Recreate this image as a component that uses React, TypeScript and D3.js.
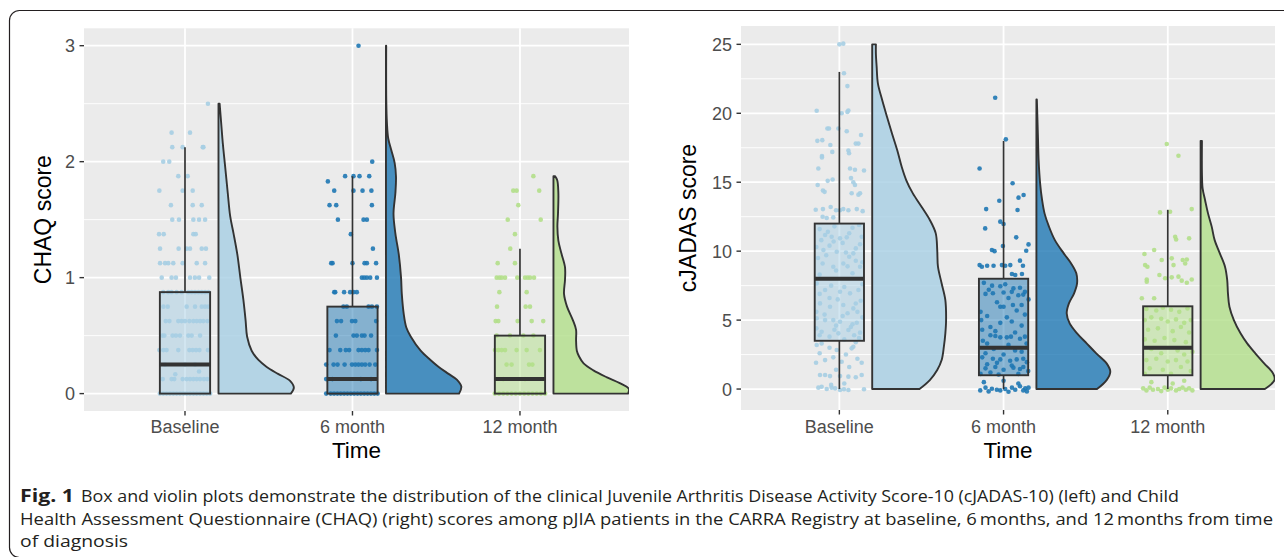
import * as React from "react";
import * as d3 from "d3";

const categories = ["Baseline", "6 month", "12 month"];
const groupColors = ["#a6cee3", "#1f78b4", "#b2df8a"];

// CHAQ points: [score, horizontal jitter offsets]
const chaqBaselineRows: [number, number[]][] = [
  [2.5, [0.137]],
  [2.25, [-0.08, 0.03]],
  [2.125, [-0.076, -0.014, 0.106, 0.11]],
  [2.0, [-0.13, -0.094]],
  [1.875, [-0.04, 0.016]],
  [1.75, [-0.153, -0.014, 0.046]],
  [1.625, [-0.084, 0.046, 0.1]],
  [1.5, [-0.076, -0.036, 0.05, 0.084, 0.12]],
  [1.375, [-0.155, -0.127, 0.05, 0.064]],
  [1.25, [-0.149, -0.038, 0.01, 0.03, 0.1, 0.125]],
  [1.125, [-0.149, -0.119, -0.1, -0.07, -0.014, 0.07, 0.12]],
  [1.0, [-0.139, -0.08, -0.054, 0.03, 0.059, 0.084, 0.145]],
  [0.875, [-0.13, -0.1, -0.08, -0.05, -0.02, 0.02, 0.04, 0.06, 0.08, 0.1, 0.12, 0.14]],
  [0.75, [-0.129, -0.103, 0.01, 0.06, 0.1, 0.12, 0.139]],
  [0.625, [-0.115, -0.093, -0.04, -0.02, 0, 0.026, 0.05, 0.07, 0.09, 0.109, 0.133]],
  [0.5, [-0.135, -0.123, -0.074, -0.054, -0.03, 0.02, 0.04, 0.09]],
  [0.375, [-0.153, -0.129, -0.11, -0.04, 0.026, 0.046, 0.066, 0.086, 0.137]],
  [0.25, [-0.12, 0.0, 0.06]],
  [0.19, [0.084]],
  [0.167, [-0.058]],
  [0.125, [-0.133, -0.08, -0.064, -0.014, 0.01, 0.03, 0.05, 0.07, 0.09, 0.113, 0.133]],
  [0, [-0.15, -0.13, -0.11, -0.09, -0.07, -0.05, -0.03, -0.01, 0.01, 0.03, 0.05, 0.07, 0.09, 0.11, 0.13, 0.15]],
];

const chaq6Rows: [number, number[]][] = [
  [3.0, [0.036]],
  [2.0, [0.118]],
  [1.875, [-0.044, 0.006, 0.042, 0.1]],
  [1.83, [-0.147]],
  [1.75, [-0.109, 0.006, 0.06, 0.113]],
  [1.625, [-0.137, -0.097, 0.116]],
  [1.5, [-0.087, 0.066, 0.086]],
  [1.375, [-0.01]],
  [1.25, [0.122]],
  [1.125, [-0.127, -0.119, 0, 0.072, 0.086, 0.141]],
  [1.0, [0.056, 0.07, 0.086, 0.106, 0.146]],
  [0.875, [-0.109, -0.103, -0.05, -0.014, 0.006, 0.026]],
  [0.75, [-0.054, -0.034, 0.096, 0.116, 0.146]],
  [0.625, [-0.093, -0.068, -0.003, 0.017, 0.141]],
  [0.5, [-0.099, 0.006, 0.026, 0.056, 0.072, 0.111]],
  [0.375, [-0.137, -0.073, -0.04, -0.02, 0.036, 0.056, 0.076, 0.096, 0.146]],
  [0.25, [-0.157, -0.113, -0.089, -0.047, -0.003, 0.017, 0.036, 0.056, 0.076, 0.102, 0.136]],
  [0.125, [-0.157, -0.12, 0.05, 0.111]],
  [0, [-0.157, -0.13, -0.11, -0.09, -0.07, -0.05, -0.03, -0.01, 0.01, 0.03, 0.05, 0.07, 0.09, 0.11, 0.13, 0.15]],
];

const chaq12Rows: [number, number[]][] = [
  [1.875, [0.08]],
  [1.75, [-0.04, -0.02, 0.115]],
  [1.625, [-0.01]],
  [1.5, [-0.073, 0.124]],
  [1.375, [-0.03]],
  [1.25, [-0.058]],
  [1.125, [-0.133, -0.03]],
  [1.0, [-0.139, -0.123, -0.109, -0.089, -0.016, 0.03, 0.046, 0.06, 0.084]],
  [0.875, [-0.123, 0.04]],
  [0.75, [-0.137, 0.034, 0.06]],
  [0.625, [-0.145, -0.129, -0.014, 0.07, 0.139]],
  [0.5, [-0.139, -0.06, 0.02, 0.08]],
  [0.375, [-0.149, -0.129, -0.109, -0.089, -0.02, 0.04, 0.119]],
  [0.25, [-0.08, -0.05, 0.054, 0.074]],
  [0.125, [-0.1, 0.03]],
  [0, [-0.15, -0.125, -0.1, -0.075, -0.05, -0.025, 0, 0.025, 0.05, 0.075, 0.1, 0.125, 0.15]],
];

// cJADAS points: [jitter, score]
const jadasBaselinePts: [number, number][] = [
  [0.0, 25.0], [0.024, 25.05], [0.028, 22.9], [0.049, 21.97], [-0.138, 20.18], [0.014, 20.0], [0.049, 20.1], [0.055, 20.2],
  [-0.073, 18.9], [-0.063, 18.9], [-0.006, 18.9], [0.045, 18.7], [0.132, 18.42], [-0.134, 18.0], [-0.104, 18.05], [0.1, 17.8],
  [0.116, 17.8], [-0.055, 17.7], [-0.106, 16.9], [-0.106, 16.8], [-0.043, 17.2], [0.055, 17.3], [0.059, 17.1],
  [-0.128, 16.0], [0.065, 16.0], [0.095, 15.9], [0.15, 15.85], [-0.071, 15.1], [-0.041, 15.2], [0.071, 15.3], [0.085, 15.0],
  [0.095, 14.8], [-0.132, 14.8], [-0.1, 14.4], [-0.09, 14.3], [0.075, 14.2], [0.116, 14.1], [0.126, 14.2],
  [-0.144, 13.0], [-0.1, 13.05], [-0.053, 13.2], [-0.02, 12.97], [0.004, 12.97], [0.024, 13.05], [0.055, 12.97], [0.106, 13.05],
  [0.142, 12.9], [-0.102, 12.5], [-0.077, 12.4], [-0.037, 12.45],
  [-0.087, 11.17], [-0.047, 11.05], [0.004, 10.93], [0.045, 11.0], [0.136, 11.05], [-0.12, 11.6], [-0.03, 11.8], [0.08, 11.7],
  [0.12, 11.9], [-0.097, 10.08], [-0.016, 9.96], [0.085, 9.84], [0.126, 10.5], [-0.14, 10.3], [0.02, 10.6], [-0.06, 10.4],
  [-0.102, 9.11], [-0.037, 8.87], [0.024, 9.11], [0.126, 8.87], [0.1, 9.3], [-0.13, 9.5], [0.06, 9.6],
  [-0.138, 7.66], [-0.087, 7.18], [0.004, 7.06], [0.065, 6.94], [0.116, 7.18], [-0.05, 7.5], [0.03, 7.4], [0.14, 7.6], [-0.12, 6.9],
  [-0.118, 6.21], [-0.057, 5.97], [0.024, 6.09], [0.085, 5.85], [-0.01, 6.5], [0.13, 6.4], [-0.14, 5.6], [0.05, 5.5],
  [-0.138, 5.13], [-0.087, 5.0], [-0.037, 5.0], [0.004, 4.88], [0.106, 4.81], [0.14, 5.2], [-0.02, 4.6], [0.07, 4.5],
  [-0.108, 4.16], [-0.006, 4.04], [0.055, 4.28], [0.126, 4.09], [-0.14, 4.4], [0.09, 3.9], [-0.06, 3.8], [0.03, 3.6], [0.12, 3.7],
  [-0.07, 11.4], [0.06, 11.3], [-0.11, 10.8], [0.1, 10.2], [-0.035, 10.7], [0.04, 9.9], [-0.08, 9.7], [0.14, 9.2],
  [-0.02, 8.6], [0.08, 8.4], [-0.12, 8.3], [0.05, 8.9], [-0.06, 6.6], [0.1, 6.2], [-0.09, 5.4], [0.02, 5.3], [0.11, 5.6],
  [-0.03, 4.3], [0.08, 4.7], [-0.12, 3.9],
  [-0.138, 3.19], [-0.108, 3.31], [-0.016, 2.83], [0.075, 2.95], [0.085, 3.07], [-0.06, 3.0], [0.1, 3.4],
  [-0.142, 1.91], [-0.087, 2.1], [-0.037, 2.3], [0.014, 1.98], [0.136, 1.91], [-0.12, 2.6], [0.04, 2.5], [0.11, 2.2],
  [-0.118, 1.02], [-0.087, 1.02], [-0.057, 0.94], [0.004, 0.94], [0.055, 0.9], [0.1, 0.85], [0.136, 1.02], [-0.02, 1.4], [0.06, 1.6],
  [-0.128, 0.1], [-0.108, 0.17], [-0.077, 0.0], [-0.047, 0.1], [-0.026, 0.05], [0.004, -0.07], [0.028, -0.02], [0.055, -0.07],
  [0.15, -0.02], [-0.05, 0.3], [0.03, 0.4],
];

const jadas6Pts: [number, number][] = [
  [-0.051, 21.13], [0.014, 18.11], [-0.146, 16.0], [0.055, 14.92], [0.091, 13.88], [0.122, 14.07], [-0.026, 13.66], [-0.106, 13.05],
  [0.085, 12.98], [-0.02, 12.14], [0.0, 11.97], [-0.112, 11.65], [0.077, 11.0], [-0.004, 10.37], [0.152, 10.49], [-0.071, 10.08],
  [-0.055, 10.0], [0.138, 10.03], [0.1, 9.31], [-0.146, 8.99], [-0.132, 8.87], [-0.1, 8.94], [-0.061, 8.94], [-0.01, 8.99],
  [0.01, 8.94], [0.041, 8.99], [0.118, 8.94], [0.051, 8.34], [0.071, 8.27], [0.112, 8.34],
  [-0.12, 7.7], [-0.07, 7.5], [-0.02, 7.45], [0.01, 7.6], [0.06, 7.3], [0.1, 7.35], [0.13, 7.05],
  [-0.11, 6.9], [-0.065, 6.95], [0.0, 7.0], [0.05, 7.05], [0.09, 6.8], [0.12, 6.85], [0.152, 6.5],
  [-0.02, 5.97], [0.0, 5.97], [0.057, 6.09], [-0.14, 5.6], [0.08, 5.7],
  [-0.136, 5.0], [-0.13, 4.3], [-0.02, 4.8], [0.05, 4.9], [0.11, 4.6], [-0.08, 4.5],
  [-0.05, 3.85], [-0.02, 3.75], [0.02, 3.75], [0.045, 3.8], [0.1, 3.65], [0.13, 3.8], [-0.126, 3.5], [-0.08, 3.9],
  [-0.1, 3.3], [-0.06, 2.9], [0.03, 3.2], [0.07, 2.8], [0.14, 3.3],
  [-0.065, 2.2], [-0.02, 2.15], [0.04, 2.05], [0.08, 2.15], [0.12, 2.2], [0.142, 1.95], [-0.13, 2.3], [-0.1, 1.8],
  [-0.11, 1.5], [-0.05, 1.6], [0.0, 1.4], [0.06, 1.55], [0.1, 1.45], [0.15, 1.3], [-0.14, 1.1], [-0.03, 1.05], [0.09, 1.1],
  [-0.09, 7.2], [0.03, 6.6], [-0.04, 6.3], [0.11, 6.1], [-0.1, 5.3], [0.02, 5.2], [0.13, 5.4], [-0.05, 4.2], [0.07, 4.1],
  [-0.11, 2.6], [0.0, 2.5], [0.11, 2.7], [-0.04, 1.9], [0.05, 1.7], [-0.08, 1.2], [0.12, 1.6],
  [-0.142, -0.1], [-0.091, -0.17], [-0.071, 0.02], [-0.041, -0.05], [-0.02, -0.1], [0.01, 0.0], [0.051, 0.1], [0.071, -0.05],
  [0.1, 0.2], [0.132, 0.05], [0.152, 0.1], [0.142, -0.17], [-0.11, 0.1], [0.03, -0.2], [0.12, -0.1], [-0.12, 0.5], [0.0, 0.6], [0.09, 0.4],
];

const jadas12Pts: [number, number][] = [
  [-0.006, 17.77], [0.065, 16.92], [-0.047, 12.81], [0.014, 12.86], [0.146, 13.05], [0.045, 11.05], [0.051, 10.85], [0.13, 10.93],
  [-0.083, 10.08], [-0.142, 9.79], [-0.037, 9.36], [0.024, 9.48], [0.091, 9.36], [0.106, 9.11], [0.116, 9.4],
  [-0.138, 8.99], [-0.124, 8.87], [0.035, 8.99], [-0.051, 8.27], [-0.016, 8.03], [0.024, 8.1], [0.065, 8.15], [0.085, 7.86],
  [-0.128, 7.95], [-0.128, 7.78], [0.116, 7.71], [0.146, 7.95], [-0.158, 6.58], [-0.083, 6.58],
  [-0.13, 5.8], [-0.07, 5.7], [-0.03, 5.9], [0.02, 5.75], [0.07, 5.6], [0.12, 5.85],
  [-0.14, 5.0], [-0.1, 5.2], [-0.04, 5.1], [0.0, 4.9], [0.05, 5.05], [0.1, 4.8], [0.14, 5.0],
  [-0.12, 4.3], [-0.06, 4.4], [0.03, 4.2], [0.08, 4.5], [0.13, 4.1],
  [-0.14, 3.6], [-0.08, 3.5], [-0.02, 3.7], [0.04, 3.55], [0.11, 3.4],
  [-0.1, 2.9], [-0.04, 2.6], [0.06, 2.8], [0.1, 2.5], [0.15, 2.7],
  [-0.13, 2.1], [-0.07, 2.2], [0.0, 2.0], [0.05, 2.1], [0.12, 2.0],
  [-0.11, 1.5], [-0.03, 1.4], [0.08, 1.6], [0.14, 1.3], [-0.14, 1.1], [0.02, 1.1],
  [-0.15, 0.05], [-0.13, -0.1], [-0.11, 0.1], [-0.09, -0.05], [-0.06, 0.0], [-0.04, -0.15], [-0.02, 0.1], [0.0, -0.05],
  [0.02, 0.05], [0.05, -0.1], [0.07, 0.0], [0.09, 0.1], [0.11, -0.05], [0.13, 0.05], [0.15, -0.1], [-0.1, 0.5], [0.1, 0.6], [0.03, 0.4],
];

// half-violin density profiles: [score, relative density]
const chaqViolinBaseline: [number, number][] = [
  [0, 0.96], [0.05, 1.0], [0.11, 0.95], [0.17, 0.79], [0.23, 0.64], [0.29, 0.53], [0.37, 0.44], [0.49, 0.38], [0.63, 0.36],
  [0.81, 0.33], [1.0, 0.29], [1.2, 0.25], [1.38, 0.2], [1.53, 0.155], [1.73, 0.123], [1.96, 0.088], [2.16, 0.057],
  [2.33, 0.036], [2.5, 0.015],
];
const chaqViolin6: [number, number][] = [
  [0, 0.97], [0.06, 1.0], [0.12, 0.94], [0.17, 0.83], [0.23, 0.7], [0.29, 0.59], [0.37, 0.46], [0.49, 0.33], [0.57, 0.27],
  [0.69, 0.235], [0.86, 0.21], [1.0, 0.2], [1.2, 0.17], [1.38, 0.125], [1.55, 0.1], [1.73, 0.125], [1.87, 0.133],
  [1.99, 0.115], [2.1, 0.07], [2.2, 0.03], [2.33, 0.013], [2.53, 0.004], [3.0, 0.003],
];
const chaqViolin12: [number, number][] = [
  [0, 0.99], [0.04, 1.0], [0.09, 0.88], [0.14, 0.71], [0.2, 0.53], [0.26, 0.4], [0.32, 0.34], [0.37, 0.31], [0.46, 0.3],
  [0.55, 0.3], [0.63, 0.26], [0.75, 0.18], [0.86, 0.14], [0.98, 0.153], [1.09, 0.153], [1.21, 0.105], [1.32, 0.065],
  [1.44, 0.052], [1.55, 0.06], [1.73, 0.065], [1.84, 0.05], [1.875, 0.02],
];
const jadasViolinBaseline: [number, number][] = [
  [0, 0.64], [0.65, 0.78], [1.38, 0.88], [2.1, 0.94], [3.07, 0.97], [4.04, 0.99], [5.0, 1.0], [6.45, 0.99], [7.66, 0.94],
  [8.87, 0.89], [10.08, 0.88], [11.29, 0.86], [12.26, 0.78], [13.2, 0.67], [14.19, 0.55], [15.16, 0.46], [16.1, 0.4],
  [17.3, 0.34], [18.5, 0.27], [19.75, 0.2], [20.96, 0.135], [22.17, 0.077], [23.4, 0.06], [24.3, 0.05], [25.0, 0.05],
];
const jadasViolin6: [number, number][] = [
  [0, 0.82], [0.65, 0.95], [1.26, 1.0], [1.86, 0.95], [2.59, 0.81], [3.31, 0.68], [4.04, 0.55], [4.76, 0.45], [5.49, 0.41],
  [6.21, 0.44], [6.94, 0.51], [7.66, 0.55], [8.39, 0.54], [9.11, 0.47], [9.84, 0.37], [10.8, 0.25], [11.78, 0.17],
  [12.74, 0.11], [13.71, 0.077], [14.92, 0.05], [16.6, 0.03], [18.06, 0.022], [19.75, 0.013], [21.0, 0.006],
];
const jadasViolin12: [number, number][] = [
  [0, 0.87], [0.65, 1.0], [1.14, 0.98], [1.86, 0.86], [2.59, 0.74], [3.31, 0.63], [4.04, 0.54], [5.0, 0.45], [5.97, 0.39],
  [6.94, 0.37], [7.9, 0.36], [8.87, 0.33], [9.84, 0.26], [10.8, 0.19], [11.78, 0.15], [12.74, 0.1], [13.71, 0.06],
  [14.55, 0.027], [15.65, 0.018], [18.0, 0.018],
];

// box statistics per group
const chaqQ1 = [0, 0, 0];
const chaqMedian = [0.25, 0.125, 0.125];
const chaqQ3 = [0.875, 0.75, 0.5];
const chaqLower = [0, 0, 0];
const chaqUpper = [2.125, 1.875, 1.25];

const jadasQ1 = [3.5, 1, 1];
const jadasMedian = [8, 3, 3];
const jadasQ3 = [12, 8, 6];
const jadasLower = [0, 0, 0];
const jadasUpper = [23, 18, 13];

const chaqTicks = [0, 1, 2, 3];
const chaqMinor = [0.5, 1.5, 2.5];
const jadasTicks = [0, 5, 10, 15, 20, 25];
const jadasMinor = [2.5, 7.5, 12.5, 17.5, 22.5];

const captionBold = "Fig. 1";
const captionLines = [
  "Box and violin plots demonstrate the distribution of the clinical Juvenile Arthritis Disease Activity Score-10 (cJADAS-10) (left) and Child",
  "Health Assessment Questionnaire (CHAQ) (right) scores among pJIA patients in the CARRA Registry at baseline, 6\u2009months, and 12\u2009months from time",
  "of diagnosis",
];

const rowsToPoints = (rows: [number, number[]][]) =>
  rows.flatMap(([v, js]) => js.map((j) => [j, v] as [number, number]));

const FONT = "'Liberation Sans', Arial, Helvetica, sans-serif";

function Panel(props: any) {
  const { id, frame, xDomain, yDomain, ticks, minor, yTitle, points, violins, q1, median, q3, lower, upper } = props;
  const x = d3.scaleLinear().domain(xDomain).range([frame.left, frame.right]);
  const y = d3.scaleLinear().domain(yDomain).range([frame.bottom, frame.top]);
  const boxHalf = 0.15;
  const violinOffset = 0.2;
  const violinWidth = 0.45;

  return (
    <g>
      <defs>
        <clipPath id={id}>
          <rect x={frame.left} y={frame.top} width={frame.right - frame.left} height={frame.bottom - frame.top} />
        </clipPath>
      </defs>
      <rect x={frame.left} y={frame.top} width={frame.right - frame.left} height={frame.bottom - frame.top} fill="#ebebeb" />
      {minor.map((t: number) => (
        <line key={"mn" + t} x1={frame.left} x2={frame.right} y1={y(t)} y2={y(t)} stroke="#fff" strokeWidth={0.9} />
      ))}
      {ticks.map((t: number) => (
        <line key={"mj" + t} x1={frame.left} x2={frame.right} y1={y(t)} y2={y(t)} stroke="#fff" strokeWidth={1.8} />
      ))}
      {categories.map((c, i) => (
        <line key={"vx" + c} x1={x(i + 1)} x2={x(i + 1)} y1={frame.top} y2={frame.bottom} stroke="#fff" strokeWidth={1.8} />
      ))}

      <g clipPath={`url(#${id})`}>
        {violins.map((prof: [number, number][], i: number) => {
          const area = d3
            .area<[number, number]>()
            .y((d) => y(d[0]))
            .x0(x(i + 1 + violinOffset))
            .x1((d) => x(i + 1 + violinOffset + d[1] * violinWidth))
            .curve(d3.curveCatmullRom.alpha(0.5));
          return (
            <path key={"v" + i} d={area(prof) || ""} fill={groupColors[i]} fillOpacity={0.8}
              stroke="#333" strokeWidth={1.9} strokeLinejoin="round" />
          );
        })}
        {points.map((pts: [number, number][], i: number) =>
          pts.map((p, k) => (
            <circle key={"p" + i + "-" + k} cx={x(i + 1 + p[0])} cy={y(p[1])} r={2.3}
              fill={groupColors[i]} fillOpacity={0.9} />
          ))
        )}
        {categories.map((c, i) => {
          const cx = x(i + 1);
          const l = x(i + 1 - boxHalf);
          const r = x(i + 1 + boxHalf);
          return (
            <g key={"b" + c}>
              <line x1={cx} x2={cx} y1={y(q3[i])} y2={y(upper[i])} stroke="#333" strokeWidth={1.7} />
              <line x1={cx} x2={cx} y1={y(q1[i])} y2={y(lower[i])} stroke="#333" strokeWidth={1.7} />
              <rect x={l} width={r - l} y={y(q3[i])} height={y(q1[i]) - y(q3[i])}
                fill={groupColors[i]} fillOpacity={0.5} stroke="#333" strokeWidth={1.9} />
              <line x1={l} x2={r} y1={y(median[i])} y2={y(median[i])} stroke="#333" strokeWidth={4} />
            </g>
          );
        })}
      </g>

      {ticks.map((t: number) => (
        <g key={"yt" + t}>
          <line x1={frame.left - 4.5} x2={frame.left} y1={y(t)} y2={y(t)} stroke="#333" strokeWidth={1.4} />
          <text x={frame.left - 9} y={y(t)} dy="0.36em" textAnchor="end" fontSize={18} fill="#4d4d4d" fontFamily={FONT}>
            {t}
          </text>
        </g>
      ))}
      {categories.map((c, i) => (
        <g key={"xt" + c}>
          <line x1={x(i + 1)} x2={x(i + 1)} y1={frame.bottom} y2={frame.bottom + 4.5} stroke="#333" strokeWidth={1.4} />
          <text x={x(i + 1)} y={433} textAnchor="middle" fontSize={18} fill="#4d4d4d" fontFamily={FONT}>
            {c}
          </text>
        </g>
      ))}
      <text x={(frame.left + frame.right) / 2} y={458} textAnchor="middle" fontSize={22.5} fill="#000" fontFamily={FONT}>
        Time
      </text>
      <text transform={`translate(${frame.titleX},${(frame.top + frame.bottom) / 2}) rotate(-90)`}
        textAnchor="middle" fontSize={23} fill="#000" fontFamily={FONT}>
        {yTitle}
      </text>
    </g>
  );
}

export default function App() {
  const chaqPoints = [rowsToPoints(chaqBaselineRows), rowsToPoints(chaq6Rows), rowsToPoints(chaq12Rows)];
  const jadasPoints = [jadasBaselinePts, jadas6Pts, jadas12Pts];
  const capFont = "'Open Sans', 'Liberation Sans', sans-serif";

  return (
    <svg width={1284} height={557} style={{ position: "absolute", left: 0, top: 0, display: "block", background: "#fff" }}>
      <rect x={9.5} y={10.5} width={1300} height={547} rx={10} fill="none" stroke="#231f20" strokeWidth={1.2} />

      <Panel id="clipL" frame={{ left: 84, right: 629, top: 28.3, bottom: 411, titleX: 51 }}
        xDomain={[0.397, 3.651]} yDomain={[-0.15, 3.15]} ticks={chaqTicks} minor={chaqMinor}
        yTitle="CHAQ score" points={chaqPoints} violins={[chaqViolinBaseline, chaqViolin6, chaqViolin12]}
        q1={chaqQ1} median={chaqMedian} q3={chaqQ3} lower={chaqLower} upper={chaqUpper} />

      <Panel id="clipR" frame={{ left: 741, right: 1275, top: 26, bottom: 410, titleX: 696 }}
        xDomain={[0.401, 3.653]} yDomain={[-1.52, 26.33]} ticks={jadasTicks} minor={jadasMinor}
        yTitle="cJADAS score" points={jadasPoints} violins={[jadasViolinBaseline, jadasViolin6, jadasViolin12]}
        q1={jadasQ1} median={jadasMedian} q3={jadasQ3} lower={jadasLower} upper={jadasUpper} />

      <text x={20} y={502} fontSize={17} fontWeight="bold" fill="#231f20" fontFamily={capFont}
        textLength={54} lengthAdjust="spacingAndGlyphs">{captionBold}</text>
      <text x={81} y={502} fontSize={17} fill="#231f20" fontFamily={capFont}
        textLength={1098} lengthAdjust="spacingAndGlyphs">{captionLines[0]}</text>
      <text x={20} y={525} fontSize={17} fill="#231f20" fontFamily={capFont}
        textLength={1253} lengthAdjust="spacingAndGlyphs">{captionLines[1]}</text>
      <text x={20} y={547} fontSize={17} fill="#231f20" fontFamily={capFont}
        textLength={108} lengthAdjust="spacingAndGlyphs">{captionLines[2]}</text>
    </svg>
  );
}
